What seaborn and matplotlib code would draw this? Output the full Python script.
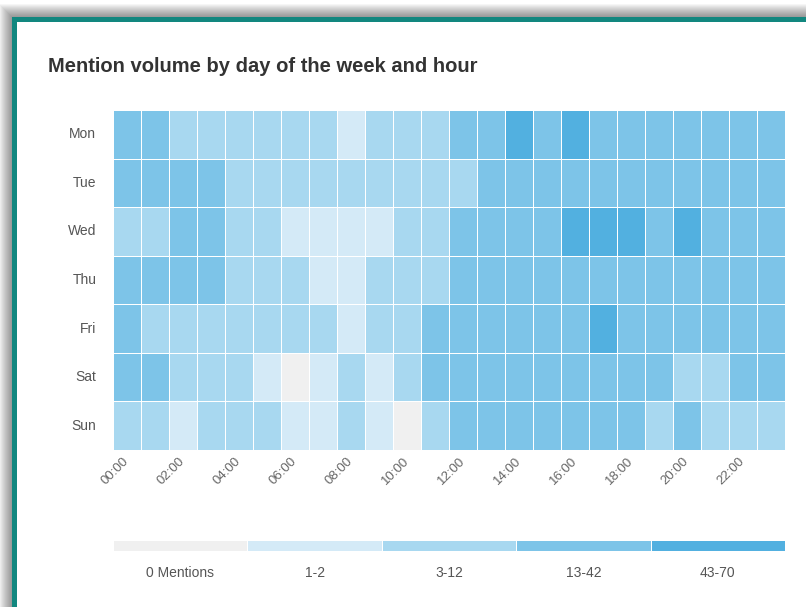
import numpy as np
import pandas as pd
import matplotlib
matplotlib.use("Agg")
import matplotlib.pyplot as plt
from matplotlib.colors import ListedColormap, BoundaryNorm
from matplotlib.patches import Rectangle
import seaborn as sns

days = ["Mon", "Tue", "Wed", "Thu", "Fri", "Sat", "Sun"]
hours = [f"{h:02d}:00" for h in range(24)]

mon = [18, 15, 9, 7, 6, 5, 4, 6, 2, 5, 8, 11, 24, 30, 52, 33, 47, 35, 29, 27, 26, 22, 19, 16]
tue = [16, 14, 13, 14, 7, 5, 4, 5, 6, 8, 9, 11, 12, 25, 31, 28, 27, 26, 24, 25, 23, 21, 18, 15]
wed = [11, 9, 14, 15, 6, 4, 2, 2, 1, 2, 7, 10, 21, 27, 34, 36, 49, 55, 44, 33, 46, 30, 22, 17]
thu = [17, 15, 14, 13, 7, 5, 3, 2, 2, 4, 8, 12, 22, 28, 33, 31, 29, 27, 26, 28, 25, 24, 20, 16]
fri = [14, 10, 8, 7, 5, 4, 3, 3, 1, 5, 9, 13, 20, 26, 30, 29, 31, 45, 32, 27, 26, 23, 19, 15]
sat = [15, 13, 7, 6, 4, 2, 0, 1, 3, 2, 6, 14, 19, 24, 28, 27, 25, 23, 22, 18, 10, 9, 17, 14]
sun = [12, 9, 2, 6, 5, 3, 1, 2, 4, 1, 0, 8, 16, 21, 25, 24, 26, 23, 20, 11, 15, 12, 10, 8]

bin_edges = [-0.5, 0.5, 2.5, 12.5, 42.5, 70.5]
bin_labels = ["0 Mentions", "1-2", "3-12", "13-42", "43-70"]
bin_colors = ["#f0f0f0", "#d4eaf7", "#a8d8f0", "#7dc4e8", "#52b0e0"]

df = pd.DataFrame([mon, tue, wed, thu, fri, sat, sun], index=days, columns=hours)

sns.set_theme(style="white")
plt.rcParams["font.family"] = ["Liberation Sans", "DejaVu Sans"]

W, H = 806, 607
fig = plt.figure(figsize=(W / 100, H / 100), dpi=100)

# card background: soft shadow, teal border, white body
bg = fig.add_axes([0, 0, 1, 1])
bg.set_xlim(0, W); bg.set_ylim(H, 0); bg.axis("off")
for i in range(14):
    bg.add_patch(Rectangle((12 - i, 17 - i), W + 40, H + 40,
                           facecolor="black", alpha=0.035, lw=0))
bg.add_patch(Rectangle((12, 17), W + 40, H + 40, facecolor="#12877f", lw=0))
bg.add_patch(Rectangle((17, 22), W + 40, H + 40, facecolor="white", lw=0))
bg.text(48, 67, "Mention volume by day of the week and hour", fontsize=14.5,
        fontweight="bold", color="#333333", va="center", ha="left")

cmap = ListedColormap(bin_colors)
norm = BoundaryNorm(bin_edges, cmap.N)

ax = fig.add_axes([113 / W, 1 - 450 / H, 672 / W, 340 / H])
sns.heatmap(df, cmap=cmap, norm=norm, cbar=False, linewidths=0.7,
            linecolor="white", ax=ax)
ax.set_xlabel(""); ax.set_ylabel("")
ax.set_xticks(np.arange(0, 24, 2) + 0.5)
ax.set_xticklabels(hours[::2], rotation=45, ha="right", va="center",
                   rotation_mode="anchor", fontsize=9.5, color="#666666")
ax.set_yticklabels(days, rotation=0, fontsize=10, color="#555555")
ax.tick_params(axis="both", length=0)
ax.tick_params(axis="y", pad=12)
ax.tick_params(axis="x", pad=7)

# legend strip
lax = fig.add_axes([113 / W, 1 - 551 / H, 672 / W, 11 / H])
sns.heatmap([list(range(len(bin_labels)))], cmap=cmap, vmin=-0.5, vmax=4.5,
            cbar=False, linewidths=0.7, linecolor="white", ax=lax)
lax.set_yticks([])
lax.set_xticklabels(bin_labels, rotation=0, fontsize=10, color="#555555")
lax.tick_params(axis="x", length=0, pad=11)

fig.savefig("out.png", dpi=100)
